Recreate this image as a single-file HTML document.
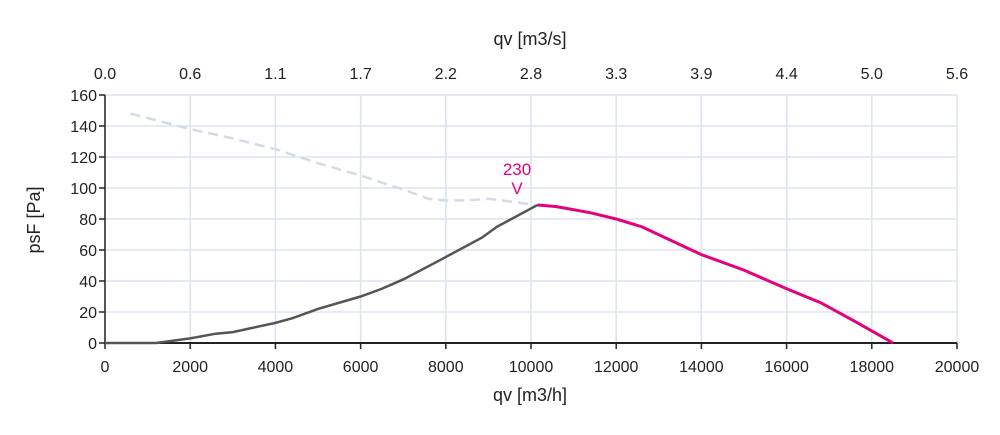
<!DOCTYPE html>
<html><head><meta charset="utf-8"><style>
body{margin:0;background:#fff;font-family:"Liberation Sans",sans-serif}
svg text{font-family:"Liberation Sans",sans-serif}
</style></head><body>
<svg id="chart" width="1000" height="430" xmlns="http://www.w3.org/2000/svg"></svg>
<script>
const xTicks=[0,2000,4000,6000,8000,10000,12000,14000,16000,18000,20000];
const topTickLabels=["0.0","0.6","1.1","1.7","2.2","2.8","3.3","3.9","4.4","5.0","5.6"];
const yTicks=[0,20,40,60,80,100,120,140,160];
const grayX=[0,1200,2000,2600,3000,4000,4400,5000,6000,6500,7000,7900,8850,9200,10150];
const grayY=[0,0,3,6,7,13,16,22,30,35,41,54,68,75,89];
const pinkX=[10150,10600,11400,12000,12600,14000,15000,16000,16800,17600,18500];
const pinkY=[89,88,84,80,75,57,47,35,26,14,0];
const dashX=[600,2000,3000,4000,5000,6000,7000,7600,8000,8500,9000,9600,10100];
const dashY=[148,138,132,125,116,108,99,93,92,92,93,91,89];
const L=105,R=957,T=95,B=343;
const sx=v=>L+(v-0)/20000*(R-L), sy=v=>B-v/160*(B-T);
const svg=document.getElementById('chart'),NS='http://www.w3.org/2000/svg';
function mk(tag,attrs,name,txt){const e=document.createElementNS(NS,tag);for(const k in attrs)e.setAttribute(k,attrs[k]);


if(txt!==undefined)e.textContent=txt;svg.appendChild(e);return e;}
xTicks.forEach((v,i)=>{const x=sx(v);
 mk('line',{x1:x,x2:x,y1:T,y2:B,stroke:'#dde3ee','stroke-width':1.5},'x-gridline');
 mk('line',{x1:x,x2:x,y1:B,y2:B+6,stroke:'#222','stroke-width':1.5},'x-tick');
 mk('text',{x:x,y:372,'text-anchor':'middle','font-size':16,fill:'#222'},'x-tick-label',String(v));
 mk('text',{x:x,y:79,'text-anchor':'middle','font-size':16,fill:'#222'},'top-tick-label',topTickLabels[i]);});
yTicks.forEach(v=>{const y=sy(v);
 mk('line',{x1:L,x2:R,y1:y,y2:y,stroke:'#dde3ee','stroke-width':1.5},'y-gridline');
 mk('line',{x1:L-6,x2:L,y1:y,y2:y,stroke:'#222','stroke-width':1.5},'y-tick');
 mk('text',{x:L-8,y:y+6,'text-anchor':'end','font-size':16,fill:'#222'},'y-tick-label',String(v));});
mk('line',{x1:L,x2:L,y1:T,y2:B,stroke:'#222','stroke-width':1.5},'y-axis');
mk('line',{x1:L,x2:R,y1:B,y2:B,stroke:'#222','stroke-width':2},'x-axis');
const pts=(X,Y)=>X.map((v,i)=>sx(v)+','+sy(Y[i])).join(' ');
mk('polyline',{points:pts(dashX,dashY),fill:'none',stroke:'#d4dbe6','stroke-width':2.5,'stroke-dasharray':'10,6'},'system-curve-dashed');
mk('polyline',{points:pts(grayX,grayY),fill:'none',stroke:'#555','stroke-width':2.5},'stall-region-curve');
mk('polyline',{points:pts(pinkX,pinkY),fill:'none',stroke:'#e5007e','stroke-width':3},'fan-curve-230v');
mk('text',{x:517,y:175,'text-anchor':'middle','font-size':17,fill:'#e5007e'},'curve-label-230',"230");
mk('text',{x:517,y:194,'text-anchor':'middle','font-size':17,fill:'#e5007e'},'curve-label-v',"V");
mk('text',{x:530,y:45,'text-anchor':'middle','font-size':18,fill:'#222'},'top-axis-title',"qv [m3/s]");
mk('text',{x:530,y:401,'text-anchor':'middle','font-size':18,fill:'#222'},'x-axis-title',"qv [m3/h]");
mk('text',{x:0,y:0,'text-anchor':'middle','font-size':18,fill:'#222',transform:'translate(40,220) rotate(-90)'},'y-axis-title',"psF [Pa]");
</script>
</body></html>
